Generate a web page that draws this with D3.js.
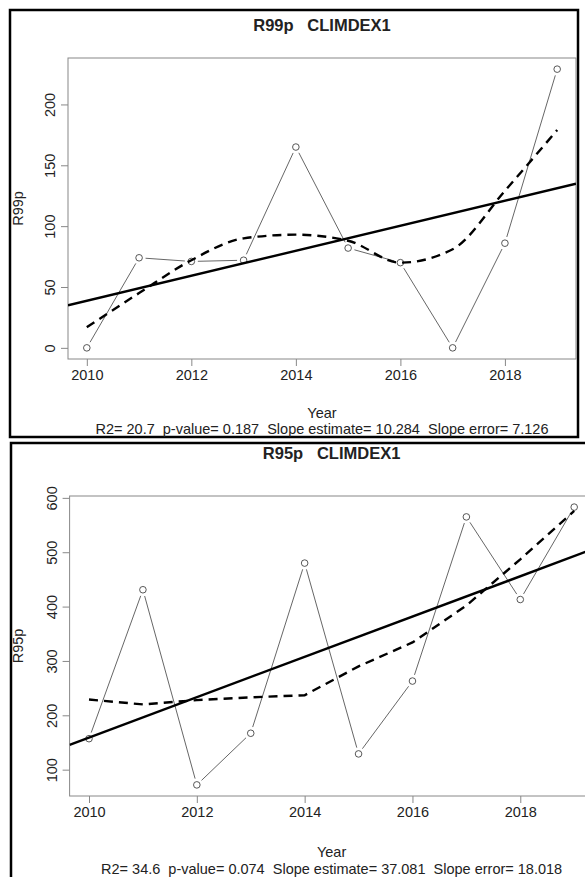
<!DOCTYPE html>
<html>
<head>
<meta charset="utf-8">
<script src="https://cdnjs.cloudflare.com/ajax/libs/d3/7.8.5/d3.min.js"></script>
<style>
  body { margin: 0; background: #fff; }
  svg text { font-family: "Liberation Sans", Arial, sans-serif; fill: #222; white-space: pre; }
</style>
</head>
<body>
<svg id="chart" width="585" height="877"></svg>
<script>
  'use strict';

  // anos e valores
  var years = [2010, 2011, 2012, 2013, 2014, 2015, 2016, 2017, 2018, 2019];
  var xTicks = [2010, 2012, 2014, 2016, 2018];

  var r99p = [0, 74, 71, 72, 165, 82, 70, 0, 86, 229];
  var r99pSmooth = [17, 45, 72, 90, 93, 88, 70, 81, 129, 179];
  var r99pTicks = [0, 50, 100, 150, 200];
  var r99pStats = "R2= 20.7  p-value= 0.187  Slope estimate= 10.284  Slope error= 7.126";
  var r99pSlope = 10.284;

  var r95p = [157, 431, 72, 167, 480, 129, 263, 565, 413, 583];
  var r95pSmooth = [229, 220, 228, 233, 237, 290, 334, 402, 487, 576];
  var r95pTicks = [100, 200, 300, 400, 500, 600];
  var r95pStats = "R2= 34.6  p-value= 0.074  Slope estimate= 37.081  Slope error= 18.018";
  var r95pSlope = 37.081;

  var svg = d3.select("#chart");

  // painel de cima
  drawPanel({
    frame: { x: 10, y: 10, w: 568, h: 427 },
    box: { left: 68, right: 576, top: 58, bottom: 359 },
    titleY: 31,
    yearY: 418,
    statsY: 434,
    title: "R99p   CLIMDEX1",
    ylab: "R99p",
    values: r99p,
    smooth: r99pSmooth,
    ticks: r99pTicks,
    slope: r99pSlope,
    stats: r99pStats,
    curve: d3.curveMonotoneX
  });

  // painel de baixo (cortado na direita e embaixo)
  drawPanel({
    frame: { x: 11, y: 443, w: 600, h: 460 },
    box: { left: 69.6, right: 593.6, top: 496, bottom: 796 },
    titleY: 459,
    yearY: 857,
    statsY: 874,
    title: "R95p   CLIMDEX1",
    ylab: "R95p",
    values: r95p,
    smooth: r95pSmooth,
    ticks: r95pTicks,
    slope: r95pSlope,
    stats: r95pStats,
    curve: d3.curveLinear
  });

  function padDomain(min, max) {
    // mesma regra do R: 4% de folga em cada lado
    var pad = (max - min) * 0.04;
    return [min - pad, max + pad];
  }

  function drawPanel(p) {
    var b = p.box;
    var g = svg.append("g");

    var x = d3.scaleLinear()
      .domain(padDomain(d3.min(years), d3.max(years)))
      .range([b.left, b.right]);
    var y = d3.scaleLinear()
      .domain(padDomain(d3.min(p.values), d3.max(p.values)))
      .range([b.bottom, b.top]);

    var clipId = "clip" + Math.round(b.top);
    g.append("clipPath").attr("id", clipId)
      .append("rect")
      .attr("x", b.left).attr("y", b.top)
      .attr("width", b.right - b.left).attr("height", b.bottom - b.top);

    // moldura preta externa
    g.append("rect")
      .attr("x", p.frame.x).attr("y", p.frame.y)
      .attr("width", p.frame.w).attr("height", p.frame.h)
      .attr("fill", "none").attr("stroke", "#000").attr("stroke-width", 2.5);

    // caixa do grafico
    g.append("rect")
      .attr("x", b.left).attr("y", b.top)
      .attr("width", b.right - b.left).attr("height", b.bottom - b.top)
      .attr("fill", "none").attr("stroke", "#888").attr("stroke-width", 1);

    // eixo x
    var xAxis = g.append("g")
      .attr("transform", "translate(0," + b.bottom + ")")
      .call(d3.axisBottom(x).tickValues(xTicks).tickFormat(d3.format("d")).tickSizeOuter(0).tickSize(7).tickPadding(4));
    xAxis.select(".domain").remove();
    xAxis.selectAll(".tick line").attr("stroke", "#888");
    xAxis.selectAll(".tick text")
      .attr("fill", "#222").style("font-size", "14.5px")
      .style("font-family", "'Liberation Sans', Arial, sans-serif");

    // eixo y com rotulos girados
    var yAxis = g.append("g")
      .attr("transform", "translate(" + b.left + ",0)")
      .call(d3.axisLeft(y).tickValues(p.ticks).tickSizeOuter(0).tickSize(7));
    yAxis.select(".domain").remove();
    yAxis.selectAll(".tick line").attr("stroke", "#888");
    yAxis.selectAll(".tick text")
      .attr("x", null).attr("dy", null)
      .attr("transform", "translate(-18,0) rotate(-90)")
      .attr("text-anchor", "middle")
      .attr("dominant-baseline", "central")
      .attr("fill", "#222").style("font-size", "14.5px")
      .style("font-family", "'Liberation Sans', Arial, sans-serif");

    var cx = (b.left + b.right) / 2;
    var cy = (b.top + b.bottom) / 2;

    g.append("text")
      .attr("x", cx).attr("y", p.titleY)
      .attr("text-anchor", "middle")
      .style("font-size", "16.5px").style("font-weight", "bold")
      .attr("fill", "#111")
      .text(p.title);

    g.append("text")
      .attr("transform", "translate(" + 23 + "," + cy + ") rotate(-90)")
      .attr("text-anchor", "middle")
      .style("font-size", "14.5px")
      .text(p.ylab);

    g.append("text")
      .attr("x", cx).attr("y", p.yearY)
      .attr("text-anchor", "middle")
      .style("font-size", "14.5px")
      .text("Year");

    g.append("text")
      .attr("x", cx).attr("y", p.statsY)
      .attr("text-anchor", "middle")
      .style("font-size", "14.5px")
      .text(p.stats);

    var pts = years.map(function (yr, i) {
      return { x: x(yr), y: y(p.values[i]) };
    });

    // linha dos dados com intervalo perto dos pontos (type = "b")
    var gap = 6.5;
    for (var i = 0; i < pts.length - 1; i++) {
      var a = pts[i], c = pts[i + 1];
      var dx = c.x - a.x, dy = c.y - a.y;
      var len = Math.sqrt(dx * dx + dy * dy);
      if (len <= 2 * gap) continue;
      var ux = dx / len, uy = dy / len;
      g.append("line")
        .attr("x1", a.x + ux * gap).attr("y1", a.y + uy * gap)
        .attr("x2", c.x - ux * gap).attr("y2", c.y - uy * gap)
        .attr("stroke", "#555").attr("stroke-width", 0.9);
    }

    g.selectAll("circle.pt")
      .data(pts)
      .enter()
      .append("circle")
      .attr("class", "pt")
      .attr("cx", function (d) { return d.x; })
      .attr("cy", function (d) { return d.y; })
      .attr("r", 3.3)
      .attr("fill", "none")
      .attr("stroke", "#444")
      .attr("stroke-width", 0.9);

    // reta de tendencia: passa pela media com a inclinacao informada
    var meanX = d3.mean(years);
    var meanY = d3.mean(p.values);
    var xd = x.domain();
    g.append("line")
      .attr("clip-path", "url(#" + clipId + ")")
      .attr("x1", x(xd[0])).attr("y1", y(meanY + p.slope * (xd[0] - meanX)))
      .attr("x2", x(xd[1])).attr("y2", y(meanY + p.slope * (xd[1] - meanX)))
      .attr("stroke", "#000").attr("stroke-width", 2.4);

    // curva suavizada tracejada
    var smoothLine = d3.line()
      .x(function (d, i) { return x(years[i]); })
      .y(function (d) { return y(d); })
      .curve(p.curve);

    g.append("path")
      .datum(p.smooth)
      .attr("d", smoothLine)
      .attr("fill", "none")
      .attr("stroke", "#000")
      .attr("stroke-width", 2.4)
      .attr("stroke-dasharray", "9,6");
  }
</script>
</body>
</html>
